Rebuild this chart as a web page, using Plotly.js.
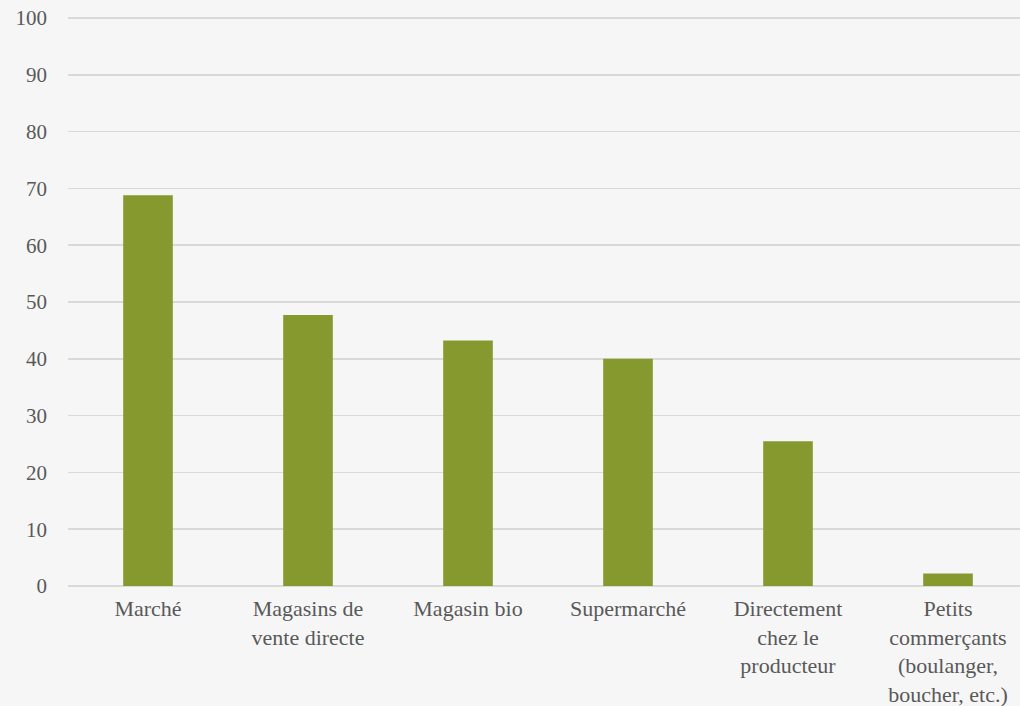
<!DOCTYPE html>
<html>
<head>
<meta charset="utf-8">
<script src="https://cdn.plot.ly/plotly-3.0.1.min.js"></script>
<style>html,body{margin:0;padding:0;background:#f6f6f6;}#chart{width:1020px;height:706px;}</style>
</head>
<body>
<div id="chart"></div>
<script>
const categories = ["Marché", "Magasins de<br>vente directe", "Magasin bio", "Supermarché", "Directement<br>chez le<br>producteur", "Petits<br>commerçants<br>(boulanger,<br>boucher, etc.)"];
const values = [68.8, 47.7, 43.2, 40.0, 25.5, 2.2];
const yTicks = [0, 10, 20, 30, 40, 50, 60, 70, 80, 90, 100];

const fontFamily = "Liberation Serif, DejaVu Serif, serif";
Plotly.newPlot("chart", [{
  type: "bar",
  x: categories,
  y: values,
  marker: {color: "#86992e"},
  width: 0.31,
  hoverinfo: "skip"
}], {
  width: 1020,
  height: 706,
  margin: {l: 68, r: 0, t: 16, b: 120},
  paper_bgcolor: "#f6f6f6",
  plot_bgcolor: "#f6f6f6",
  showlegend: false,
  font: {family: fontFamily, size: 22, color: "#595959"},
  xaxis: {
    type: "category",
    range: [-0.5, 5.45],
    showgrid: false,
    showline: false,
    zeroline: false,
    ticks: "",
    ticklabelstandoff: 7,
    tickfont: {family: fontFamily, size: 22, color: "#595959"}
  },
  yaxis: {
    range: [0, 100.35],
    tickvals: yTicks,
    ticktext: yTicks.map(String),
    showgrid: true,
    gridcolor: "#d9d9d9",
    gridwidth: 1.5,
    zeroline: true,
    zerolinecolor: "#d9d9d9",
    zerolinewidth: 1.5,
    showline: false,
    ticks: "",
    ticklabelstandoff: 20,
    tickfont: {family: fontFamily, size: 21, color: "#595959"}
  }
}, {staticPlot: true});
</script>
</body>
</html>
